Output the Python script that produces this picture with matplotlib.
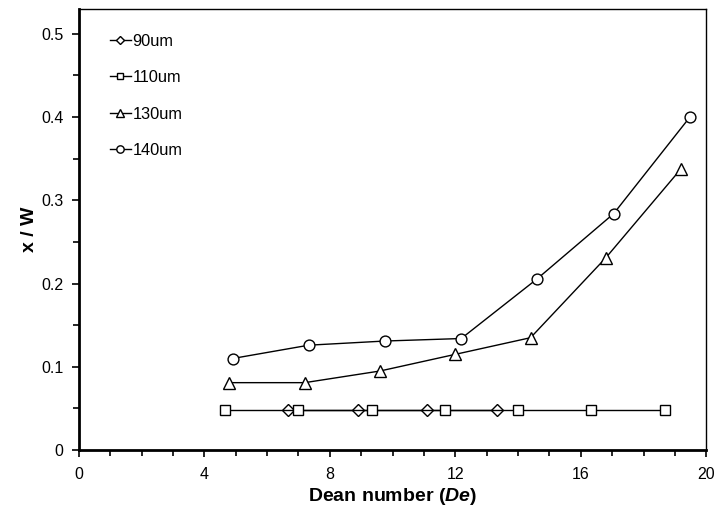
import matplotlib
matplotlib.use("Agg")
import matplotlib.pyplot as plt
from matplotlib.ticker import MultipleLocator, FuncFormatter

plt.rcParams['font.family'] = ['Liberation Sans', 'DejaVu Sans']
plt.rcParams['mathtext.fontset'] = 'custom'
plt.rcParams['mathtext.it'] = 'Liberation Sans:italic:bold'
plt.rcParams['mathtext.rm'] = 'Liberation Sans:bold'
plt.rcParams['mathtext.bf'] = 'Liberation Sans:bold'

# Dean number and normalised position x/W for each channel width
de_90 = [6.67, 8.89, 11.10, 13.34]
xw_90 = [0.048, 0.048, 0.048, 0.048]

de_110 = [4.67, 7.00, 9.34, 11.67, 14.00, 16.34, 18.68]
xw_110 = [0.048, 0.048, 0.048, 0.048, 0.048, 0.048, 0.048]

de_130 = [4.80, 7.20, 9.60, 12.00, 14.40, 16.80, 19.20]
xw_130 = [0.081, 0.081, 0.095, 0.115, 0.135, 0.231, 0.338]

de_140 = [4.90, 7.33, 9.76, 12.19, 14.62, 17.05, 19.48]
xw_140 = [0.110, 0.126, 0.131, 0.134, 0.206, 0.284, 0.400]

series = [
    ("90um", de_90, xw_90, "D", 5.8),
    ("110um", de_110, xw_110, "s", 7.2),
    ("130um", de_130, xw_130, "^", 8.0),
    ("140um", de_140, xw_140, "o", 7.8),
]

fig = plt.figure(figsize=(7.17, 5.15), dpi=100)
ax = fig.add_axes([0.110, 0.126, 0.875, 0.857])

for label, xs, ys, mk, ms in series:
    ax.plot(xs, ys, color="black", lw=1.0, marker=mk, markersize=ms,
            markerfacecolor="white", markeredgecolor="black",
            markeredgewidth=1.0, label=label)

ax.set_xlim(0, 20)
ax.set_ylim(0, 0.53)
ax.xaxis.set_major_locator(MultipleLocator(4))
ax.xaxis.set_minor_locator(MultipleLocator(1))
ax.yaxis.set_major_locator(MultipleLocator(0.1))
ax.yaxis.set_minor_locator(MultipleLocator(0.05))
ax.yaxis.set_major_formatter(FuncFormatter(lambda v, p: "0" if abs(v) < 1e-9 else f"{v:.1f}"))

ax.tick_params(which="both", direction="out", width=1.2, labelsize=11.5)
ax.tick_params(which="major", length=5)
ax.tick_params(which="minor", length=4)
ax.tick_params(axis="x", pad=7)
ax.tick_params(axis="y", pad=6)

for side, sp in ax.spines.items():
    sp.set_color("black")
    sp.set_linewidth(1.0)
ax.spines["left"].set_linewidth(2.0)
ax.spines["bottom"].set_linewidth(2.0)

ax.set_xlabel(r"Dean number ($\mathit{De}$)", fontsize=14, fontweight="bold", labelpad=3)
ax.set_ylabel("x / W", fontsize=14, fontweight="bold", labelpad=2)

leg = ax.legend(loc="upper left", frameon=False, fontsize=11.8,
                handlelength=1.25, handletextpad=0.12, labelspacing=1.3,
                borderaxespad=0.0, borderpad=0.0,
                bbox_to_anchor=(0.05, 0.943))
for h in leg.legend_handles:
    h.set_markersize(h.get_markersize() * 0.68)

fig.savefig("out.png", dpi=100)
